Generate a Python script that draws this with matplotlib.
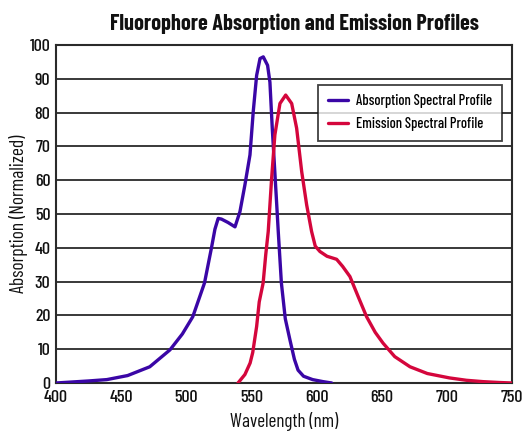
import matplotlib
matplotlib.use("Agg")
import matplotlib.pyplot as plt

# Data
abs_wl = [400, 425, 439, 455, 472, 487.5, 497, 505, 514, 519.5, 522, 524.5, 527, 532, 537.4, 541.2, 545, 548.9, 551.4, 554, 556.6, 559.1, 562.4, 564.2, 566, 567.5, 569.3, 570.6, 573, 576, 579.6, 583, 585.8, 590, 597, 605, 611.6]
abs_val = [0, 0.6, 1.0, 2.2, 4.8, 9.8, 14.5, 19.6, 29.6, 40.3, 45.5, 48.7, 48.5, 47.5, 46.2, 50.7, 58.6, 67.5, 80.3, 91, 96, 96.5, 94, 89, 75.4, 65.5, 53.6, 44.8, 29.6, 19, 12.7, 7, 3.8, 2.0, 1.0, 0.4, 0]

em_wl = [539.7, 545, 549, 551, 554, 556, 559, 561, 562.9, 565.5, 568, 571.9, 576.3, 580.9, 584.7, 588.6, 592.4, 596.2, 599, 602.6, 608, 615.4, 620, 625.6, 632, 638.4, 645, 651, 660, 671.7, 685, 702, 715, 727.7, 740, 750]
em_val = [0, 2.5, 5.9, 9, 16.7, 24, 29.6, 38, 44.8, 60.5, 73.4, 82.7, 85.2, 82.7, 75.4, 62.5, 52.7, 44.8, 40.5, 38.9, 37.5, 36.6, 34.5, 31.5, 25.5, 19.6, 15, 11.8, 7.8, 4.8, 2.8, 1.5, 0.8, 0.4, 0.15, 0]

x_ticks = [400, 450, 500, 550, 600, 650, 700, 750]
y_ticks = [0, 10, 20, 30, 40, 50, 60, 70, 80, 90, 100]

title = "Fluorophore Absorption and Emission Profiles"
xlabel = "Wavelength (nm)"
ylabel = "Absorption (Normalized)"
labels = ["Absorption Spectral Profile", "Emission Spectral Profile"]

plt.rcParams['font.family'] = ['Barlow Condensed', 'DejaVu Sans']
plt.rcParams['font.weight'] = 'medium'
fig = plt.figure(figsize=(5.23, 4.33), dpi=100)
ax = fig.add_axes([0.107, 0.1155, 0.872, 0.7805])

ax.set_xlim(400, 750)
ax.set_ylim(0, 100)
ax.set_xticks(x_ticks)
ax.set_yticks(y_ticks)
for y in y_ticks[1:-1]:
    ax.axhline(y, color="#2a2a2a", lw=1.3, zorder=1)

blue = "#3a06a6"
red = "#d4063c"
ax.plot(abs_wl, abs_val, color=blue, lw=2.4, label=labels[0], zorder=3, solid_capstyle='round', solid_joinstyle='round')
ax.plot(em_wl, em_val, color=red, lw=2.4, label=labels[1], zorder=3, solid_capstyle='round', solid_joinstyle='round')

for s in ax.spines.values():
    s.set_color("#2a2a2a")
    s.set_linewidth(1.5)
ax.tick_params(length=0, labelsize=13, colors="#111111")
ax.tick_params(axis='x', pad=5)
ax.tick_params(axis='y', pad=4)

ax.set_xlabel(xlabel, fontsize=13.8, labelpad=5, color="#111111")
ax.set_ylabel(ylabel, fontsize=14, labelpad=1, color="#111111")
fig.text(0.563, 0.946, title, ha="center", va="center", fontsize=16, fontweight="bold", color="#111111")

leg = ax.legend(loc="upper right", bbox_to_anchor=(0.978, 0.882), borderaxespad=0, prop={'size': 10.5},
                frameon=True, fancybox=False, handlelength=1.4, borderpad=0.65, labelspacing=0.62, handletextpad=0.55)
leg.get_frame().set_edgecolor("#111111")
leg.get_frame().set_linewidth(1.3)
leg.set_zorder(5)

fig.savefig("out.png", dpi=100)
